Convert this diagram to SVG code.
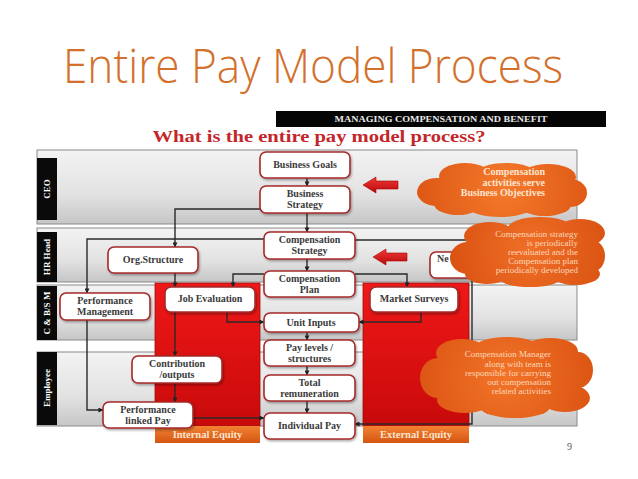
<svg xmlns="http://www.w3.org/2000/svg" width="638" height="479" viewBox="0 0 638 479">
<defs>
<linearGradient id="lane" x1="0" y1="0" x2="0" y2="1">
<stop offset="0" stop-color="#f3f3f3"/><stop offset="0.6" stop-color="#e2e2e2"/><stop offset="1" stop-color="#c6c6c6"/>
</linearGradient>
<linearGradient id="red" x1="0" y1="0" x2="0" y2="1">
<stop offset="0" stop-color="#f01818"/><stop offset="1" stop-color="#c80a0a"/>
</linearGradient>
<linearGradient id="eq" x1="0" y1="0" x2="0" y2="1">
<stop offset="0" stop-color="#f28232"/><stop offset="1" stop-color="#d45512"/>
</linearGradient>
<linearGradient id="arr" x1="0" y1="0" x2="0" y2="1">
<stop offset="0" stop-color="#f23a3a"/><stop offset="1" stop-color="#b80808"/>
</linearGradient>
<radialGradient id="c1" gradientUnits="userSpaceOnUse" cx="505" cy="188" r="95">
<stop offset="0" stop-color="#f47a2c"/><stop offset="1" stop-color="#dc5512"/>
</radialGradient>
<radialGradient id="c2" gradientUnits="userSpaceOnUse" cx="530" cy="250" r="85">
<stop offset="0" stop-color="#f07028"/><stop offset="1" stop-color="#d85010"/>
</radialGradient>
<radialGradient id="c3" gradientUnits="userSpaceOnUse" cx="505" cy="377" r="95">
<stop offset="0" stop-color="#f27428"/><stop offset="1" stop-color="#da5312"/>
</radialGradient>
<filter id="sh" x="-10%" y="-10%" width="125%" height="140%">
<feDropShadow dx="1" dy="1.5" stdDeviation="1" flood-color="#000" flood-opacity="0.35"/>
</filter>
<marker id="ah" viewBox="0 0 6 6" refX="5.5" refY="3" markerWidth="5" markerHeight="5" orient="auto" markerUnits="userSpaceOnUse">
<path d="M0,0 L6,3 L0,6 Z" fill="#222"/>
</marker>
</defs>
<style>
.lane{fill:url(#lane);stroke:#8a8a8a;stroke-width:1}
.lbl{fill:#0a0a0a}
.lt{font-family:"Liberation Serif",serif;font-weight:bold;font-size:9px;fill:#fff;text-anchor:middle}
.box{fill:#fff;stroke:#a52a2a;stroke-width:1.6;filter:url(#sh)}
.nt{font-family:"Liberation Serif",serif;font-weight:bold;font-size:10px;fill:#3a3a3a;text-anchor:middle}
.con{fill:none;stroke:#2a2a2a;stroke-width:1.4;marker-end:url(#ah)}
.eqt{font-family:"Liberation Serif",serif;font-weight:bold;font-size:10.5px;fill:#fde4cc;text-anchor:middle}
.ct1{font-family:"Liberation Serif",serif;font-weight:bold;font-size:10px;fill:#fde6d2;text-anchor:end}
.ct2{font-family:"Liberation Serif",serif;font-size:9px;fill:#fcd8bc;text-anchor:end}
</style>
<rect width="638" height="479" fill="#fff"/>
<text x="313" y="83" font-family="Open Sans, sans-serif" font-weight="300" font-size="48" fill="#d3702c" text-anchor="middle" textLength="500" lengthAdjust="spacingAndGlyphs">Entire Pay Model Process</text>
<rect x="276" y="111" width="330" height="16" fill="#050505"/>
<text x="441" y="122" font-family="Liberation Serif, serif" font-weight="bold" font-size="8.5" fill="#e8e8e8" text-anchor="middle" textLength="213" lengthAdjust="spacingAndGlyphs">MANAGING COMPENSATION AND BENEFIT</text>
<text x="319" y="142" font-family="Liberation Serif, serif" font-weight="bold" font-size="17" fill="#c4262a" text-anchor="middle" textLength="333" lengthAdjust="spacingAndGlyphs">What is the entire pay model process?</text>

<g id="lanes">
<rect class="lane" x="37" y="150" width="540" height="74"/>
<rect class="lane" x="37" y="228" width="540" height="54"/>
<rect class="lane" x="37" y="285" width="540" height="55"/>
<rect class="lane" x="37" y="352" width="540" height="74"/>
<rect class="lbl" x="37" y="158" width="20" height="62"/>
<rect class="lbl" x="37" y="232" width="20" height="50"/>
<rect class="lbl" x="37" y="286" width="20" height="54"/>
<rect class="lbl" x="37" y="352" width="20" height="73"/>
<text class="lt" transform="translate(50,189) rotate(-90)">CEO</text>
<text class="lt" transform="translate(50,257) rotate(-90)">HR Head</text>
<text class="lt" transform="translate(50,313) rotate(-90)">C &amp; B/S M</text>
<text class="lt" transform="translate(50,388) rotate(-90)">Employee</text>
</g>

<g id="equity">
<rect x="155" y="283" width="105" height="143" fill="url(#red)" stroke="#9a1010" stroke-width="0.8"/>
<rect x="363" y="283" width="106" height="143" fill="url(#red)" stroke="#9a1010" stroke-width="0.8"/>
<rect x="155" y="426" width="105" height="17" fill="url(#eq)"/>
<rect x="363" y="426" width="106" height="17" fill="url(#eq)"/>
<text class="eqt" x="207.5" y="438">Internal Equity</text>
<text class="eqt" x="416" y="438">External Equity</text>
</g>

<g id="block-arrows">
<polygon points="363,185 376,177 376,181 398,181 398,189 376,189 376,193" fill="url(#arr)" stroke="#a00" stroke-width="0.6"/>
<polygon points="373,257 386,249 386,253 407,253 407,261 386,261 386,265" fill="url(#arr)" stroke="#a00" stroke-width="0.6"/>
</g>

<g id="connectors">
<path class="con" d="M307,178 V186"/>
<path class="con" d="M307,213 V232"/>
<path class="con" d="M260,209 H175 V247"/>
<path class="con" d="M175,273 V287"/>
<path class="con" d="M264,239 H87 V293"/>
<path class="con" d="M307,259 V271"/>
<path class="con" d="M264,274 H233 V287"/>
<path class="con" d="M355,274 H407 V287"/>
<path class="con" d="M355,240 H470 V252"/>
<path class="con" d="M227,312 V322 H264"/>
<path class="con" d="M421,312 V322 H359"/>
<path class="con" d="M307,332 V340"/>
<path class="con" d="M307,366 V375"/>
<path class="con" d="M307,401 V413"/>
<path class="con" d="M175,312 V356"/>
<path class="con" d="M175,383 V402"/>
<path class="con" d="M87,320 V410 H103"/>
<path class="con" d="M193,418 H264"/>
<path class="con" d="M472,278 V424 H355"/>
</g>

<g id="n-new"><rect class="box" x="430" y="252" width="70" height="26" rx="6"/><text class="nt" x="437" y="262" style="text-anchor:start">Ne</text></g>

<g id="n-goals"><rect class="box" x="260" y="152" width="90" height="26" rx="6"/><text class="nt" x="305" y="168">Business Goals</text></g>
<g id="n-bstrategy"><rect class="box" x="260" y="186" width="90" height="27" rx="6"/><text class="nt" x="305" y="197">Business</text><text class="nt" x="305" y="208">Strategy</text></g>
<g id="n-cstrategy"><rect class="box" x="264" y="232" width="91" height="27" rx="6"/><text class="nt" x="309.5" y="243">Compensation</text><text class="nt" x="309.5" y="254">Strategy</text></g>
<g id="n-cplan"><rect class="box" x="264" y="271" width="91" height="26" rx="6"/><text class="nt" x="309.5" y="282">Compensation</text><text class="nt" x="309.5" y="293">Plan</text></g>
<g id="n-unit"><rect class="box" x="264" y="313" width="95" height="19" rx="6"/><text class="nt" x="311" y="326">Unit Inputs</text></g>
<g id="n-paylevels"><rect class="box" x="264" y="340" width="91" height="26" rx="6"/><text class="nt" x="309.5" y="351">Pay levels /</text><text class="nt" x="309.5" y="362">structures</text></g>
<g id="n-total"><rect class="box" x="264" y="375" width="91" height="26" rx="6"/><text class="nt" x="309.5" y="386">Total</text><text class="nt" x="309.5" y="397">remuneration</text></g>
<g id="n-indiv"><rect class="box" x="264" y="413" width="91" height="26" rx="6"/><text class="nt" x="309.5" y="429">Individual Pay</text></g>
<g id="n-org"><rect class="box" x="108" y="247" width="90" height="26" rx="6"/><text class="nt" x="153" y="263">Org.Structure</text></g>
<g id="n-perfm"><rect class="box" x="60" y="293" width="90" height="27" rx="6"/><text class="nt" x="105" y="304">Performance</text><text class="nt" x="105" y="315">Management</text></g>
<g id="n-jobeval"><rect class="box" x="165" y="287" width="90" height="25" rx="6"/><text class="nt" x="210" y="302">Job Evaluation</text></g>
<g id="n-market"><rect class="box" x="370" y="287" width="88" height="25" rx="6"/><text class="nt" x="414" y="302">Market Surveys</text></g>
<g id="n-contrib"><rect class="box" x="132" y="356" width="90" height="27" rx="6"/><text class="nt" x="177" y="367">Contribution</text><text class="nt" x="177" y="378">/outputs</text></g>
<g id="n-plp"><rect class="box" x="103" y="402" width="90" height="26" rx="6"/><text class="nt" x="148" y="413">Performance</text><text class="nt" x="148" y="424">linked Pay</text></g>

<g id="cloud1" fill="url(#c1)">
<ellipse cx="502" cy="190" rx="75" ry="22"/>
<ellipse cx="437" cy="192" rx="20" ry="14"/>
<ellipse cx="465" cy="176" rx="26" ry="13"/>
<ellipse cx="506" cy="174" rx="30" ry="11"/>
<ellipse cx="548" cy="177" rx="28" ry="13"/>
<ellipse cx="570" cy="193" rx="17" ry="14"/>
<ellipse cx="545" cy="205" rx="26" ry="11"/>
<ellipse cx="500" cy="207" rx="32" ry="10"/>
<ellipse cx="458" cy="204" rx="24" ry="11"/>
<text class="ct1" x="545" y="175">Compensation</text>
<text class="ct1" x="545" y="185.5">activities serve</text>
<text class="ct1" x="545" y="196">Business Objectives</text>
</g>
<g id="cloud2" fill="url(#c2)">
<ellipse cx="530" cy="253" rx="65" ry="27"/>
<ellipse cx="468" cy="258" rx="18" ry="16"/>
<ellipse cx="490" cy="236" rx="26" ry="14"/>
<ellipse cx="540" cy="228" rx="32" ry="11"/>
<ellipse cx="580" cy="233" rx="25" ry="14"/>
<ellipse cx="592" cy="256" rx="13" ry="16"/>
<ellipse cx="575" cy="274" rx="25" ry="11"/>
<ellipse cx="530" cy="279" rx="30" ry="8"/>
<ellipse cx="487" cy="274" rx="22" ry="10"/>
<text class="ct2" x="578" y="236.5">Compensation strategy</text>
<text class="ct2" x="578" y="245.5">is periodically</text>
<text class="ct2" x="578" y="254.5">reevaluated and the</text>
<text class="ct2" x="578" y="263.5">Compensation plan</text>
<text class="ct2" x="578" y="272.5">periodically developed</text>
</g>
<g id="cloud3" fill="url(#c3)">
<ellipse cx="505" cy="377" rx="72" ry="33"/>
<ellipse cx="438" cy="378" rx="18" ry="20"/>
<ellipse cx="462" cy="353" rx="26" ry="14"/>
<ellipse cx="507" cy="347" rx="32" ry="10"/>
<ellipse cx="550" cy="351" rx="28" ry="13"/>
<ellipse cx="578" cy="370" rx="15" ry="18"/>
<ellipse cx="565" cy="398" rx="25" ry="14"/>
<ellipse cx="515" cy="407" rx="35" ry="11"/>
<ellipse cx="465" cy="400" rx="28" ry="13"/>
<text class="ct2" x="551" y="357">Compensation Manager</text>
<text class="ct2" x="551" y="366.5">along with team is</text>
<text class="ct2" x="551" y="376">responsible for carrying</text>
<text class="ct2" x="551" y="385">out compensation</text>
<text class="ct2" x="551" y="394">related activities</text>
</g>
<text x="567" y="450" font-family="Liberation Serif, serif" font-size="10" fill="#555">9</text>
</svg>
